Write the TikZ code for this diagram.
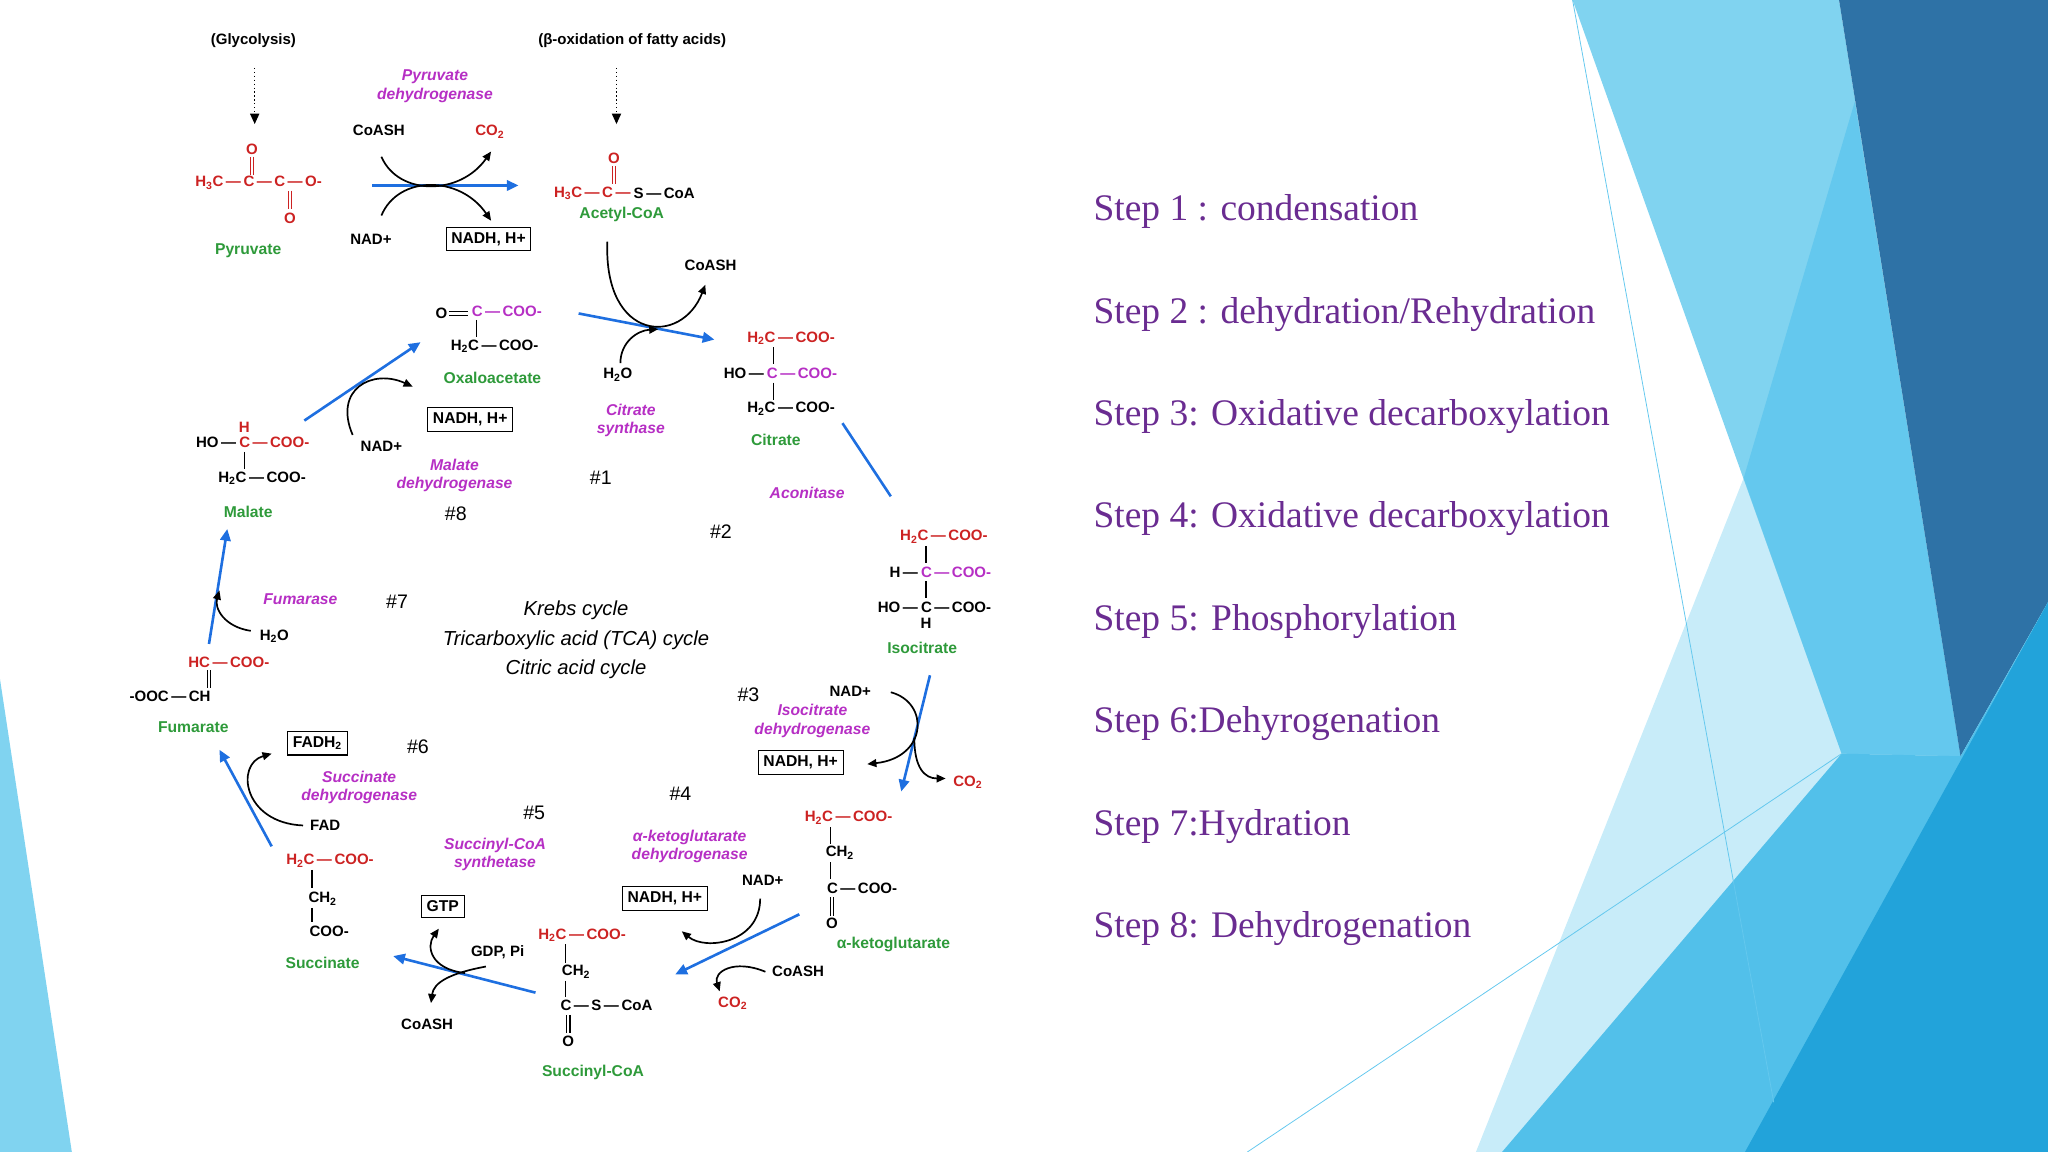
\documentclass[tikz,border=0pt]{standalone}
\usepackage{fontspec}
\setmainfont{Liberation Serif}
\setsansfont{Liberation Sans}
\usetikzlibrary{arrows.meta}
\definecolor{cred}{HTML}{CC2222}
\definecolor{cmag}{HTML}{B62FC4}
\definecolor{cgrn}{HTML}{2E9A3A}
\definecolor{cblu}{HTML}{1E6FE0}
\definecolor{stepc}{HTML}{6A2C91}
\definecolor{bgl}{HTML}{80D3F0}
\definecolor{bgp}{HTML}{C8ECF9}
\definecolor{bgm}{HTML}{64C8EE}
\definecolor{bgd}{HTML}{2E72A6}
\definecolor{bgc}{HTML}{52C0EA}
\definecolor{bgc2}{HTML}{22A3DA}
\newcommand{\sub}[1]{\textsubscript{#1}}
\tikzset{
 ch/.style={font=\sffamily\bfseries\fontsize{11.5}{13}\selectfont, inner sep=1pt},
 rd/.style={ch, text=cred},
 mg/.style={ch, text=cmag},
 gn/.style={ch, text=cgrn, font=\sffamily\bfseries\fontsize{12}{13}\selectfont},
 enz/.style={text=cmag, font=\sffamily\bfseries\itshape\fontsize{12}{14}\selectfont, align=center, inner sep=1pt},
 num/.style={font=\sffamily\fontsize{15}{15}\selectfont},
 bx/.style={ch, draw, line width=0.8pt, inner sep=4pt, font=\sffamily\bfseries\fontsize{12}{13}\selectfont},
 bond/.style={line width=1.1pt},
 dbl/.style={double, double distance=2pt, line width=0.8pt},
 barr/.style={cblu, line width=2pt, -{Triangle[length=9pt,width=8pt]}},
 bline/.style={cblu, line width=2pt},
 karr/.style={line width=1.3pt, -{Triangle[length=7pt,width=6pt]}},
 steptxt/.style={text=stepc, font=\fontsize{28.7}{31}\selectfont, anchor=west, inner sep=0pt},
}
\begin{document}
\begin{tikzpicture}[x=1pt,y=-1pt]
\useasboundingbox (0,0) rectangle (1568,882);
% background
\fill[bgl] (0,520) -- (55,882) -- (0,882) -- cycle;
\fill[bgp] (1335,366) -- (1410,577) -- (1360,882) -- (1130,882) -- cycle;
\fill[bgl] (1204,0) -- (1408,0) -- (1501,579) -- (1410,577) -- cycle;
\fill[bgm] (1420,78) -- (1501,579) -- (1410,577) -- (1335,366) -- cycle;
\fill[bgd] (1408,0) -- (1568,0) -- (1568,461) -- (1501,579) -- cycle;
\fill[bgc] (1150,882) -- (1410,577) -- (1501,579) -- (1568,461) -- (1568,882) -- cycle;
\fill[bgc2] (1336,882) -- (1568,461) -- (1568,882) -- cycle;
\draw[bgm, line width=0.6pt] (1204,0) -- (1358,844);
\draw[bgm, line width=0.6pt] (955,882) -- (1410,577);

% steps
\node[steptxt] (s1) at (837,162) {Step 1 : condensation};
\node[steptxt] (s2) at (837,241) {Step 2 : dehydration/Rehydration};
\node[steptxt] (s3) at (837,319) {Step 3: Oxidative decarboxylation};
\node[steptxt] (s4) at (837,397) {Step 4: Oxidative decarboxylation};
\node[steptxt] (s5) at (837,476) {Step 5: Phosphorylation};
\node[steptxt] (s6) at (837,554) {Step 6:Dehyrogenation};
\node[steptxt] (s7) at (837,633) {Step 7:Hydration};
\node[steptxt] (s8) at (837,711) {Step 8: Dehydrogenation};

% top sources
\node[ch] (gly) at (194,31) {(Glycolysis)};
\node[ch] (box) at (484,31) {(β-oxidation of fatty acids)};
\coordinate (g1) at (195,52); \coordinate (g2) at (195,95);
\coordinate (b1) at (472,52); \coordinate (b2) at (472,95);
\draw[line width=1pt, dotted, -{Triangle[length=8pt,width=7pt]}] (g1) -- (g2);
\draw[line width=1pt, dotted, -{Triangle[length=8pt,width=7pt]}] (b1) -- (b2);

% pyruvate
\node[rd] (pyr) at (198,140) {H\sub{3}C\,—\,C\,—\,C\,—\,O-};
\node[rd] (po1) at (193,114) {O};
\node[rd] (po2) at (222,167) {O};
\draw[dbl, cred] (193,120) -- (193,134);
\draw[dbl, cred] (222,146) -- (222,160);
\node[gn] (pyrl) at (190,192) {Pyruvate};
\node[enz] (pdh) at (333,66) {Pyruvate\\dehydrogenase};
\node[ch] (coa1) at (290,100) {CoASH};
\node[rd] (co21) at (375,101) {CO\sub{2}};
\node[ch] (nad1) at (284,183) {NAD+};
\node[bx] (nadh1) at (374,183) {NADH, H+};
\coordinate (pa) at (285,142); \coordinate (pb) at (397,142);
\draw[barr] (pa) -- (pb);
\draw[karr] (292,120) .. controls (305,150) and (352,150) .. (376,116);
\draw[karr] (292,165) .. controls (305,134) and (352,134) .. (376,169);

% acetyl-CoA
\node[rd, anchor=east] (acc) at (484,148) {H\sub{3}C\,—\,C\,—};
\node[ch, anchor=west] (acs) at (484,148) {S\,—\,CoA};
\node[rd] (ao) at (470,121) {O};
\draw[dbl, cred] (470,127) -- (470,141);
\node[gn] (acl) at (476,164) {Acetyl-CoA};
\node[ch] (coa2) at (544,203) {CoASH};
\node[ch] (h2o1) at (473,287) {H\sub{2}O};
\coordinate (ca) at (443,240); \coordinate (cb) at (547,260);
\draw[barr] (ca) -- (cb);
\draw[karr] (465,185) .. controls (462,262) and (522,265) .. (540,218);
\draw[karr] (475,278) .. controls (475,262) and (488,253) .. (504,252);
\node[enz] (cs) at (483,322) {Citrate\\synthase};
\node[num] (n1) at (460,366) {\#1};

% oxaloacetate
\node[ch] (oxo) at (338,240) {O};
\draw[dbl] (344,240) -- (358,240);
\node[mg, anchor=west] (oxc) at (360,238) {C\,—\,COO-};
\node[ch, anchor=west] (oxc2) at (344,265) {H\sub{2}C\,—\,COO-};
\draw[bond] (365,245) -- (365,258);
\node[gn] (oxl) at (377,289) {Oxaloacetate};

% citrate
\node[rd, anchor=west] (ci1) at (571,259) {H\sub{2}C\,—\,COO-};
\node[ch, anchor=east] (ci2a) at (586,286) {HO\,—};
\node[mg, anchor=west] (ci2) at (586,286) {C\,—\,COO-};
\node[ch, anchor=west] (ci3) at (571,313) {H\sub{2}C\,—\,COO-};
\draw[bond] (592,266) -- (592,279);
\draw[bond] (592,293) -- (592,306);
\node[gn] (cil) at (594,337) {Citrate};
\coordinate (aa) at (645,324); \coordinate (ab) at (682,380);
\draw[bline] (aa) -- (ab);
\node[enz] (acn) at (618,377) {Aconitase};
\node[num] (n2) at (552,407) {\#2};

% isocitrate
\node[rd, anchor=west] (is1) at (688,411) {H\sub{2}C\,—\,COO-};
\node[ch, anchor=east] (is2a) at (704,438) {H\,—};
\node[mg, anchor=west] (is2) at (704,438) {C\,—\,COO-};
\node[ch, anchor=east] (is3a) at (704,465) {HO\,—};
\node[ch, anchor=west] (is3) at (704,465) {C\,—\,COO-};
\node[ch] (is4) at (709,477) {H};
\draw[bond] (709,418) -- (709,431);
\draw[bond] (709,445) -- (709,458);
\node[gn] (isl) at (706,496) {Isocitrate};
\coordinate (ia) at (712,517); \coordinate (ib) at (690,606);
\draw[barr] (ia) -- (ib);
\node[ch] (nad3) at (651,529) {NAD+};
\node[rd] (co23) at (741,599) {CO\sub{2}};
\node[bx] (nadh3) at (613,584) {NADH, H+};
\draw[karr] (682,530) .. controls (712,538) and (710,580) .. (664,585);
\draw[karr] (700,565) .. controls (700,588) and (708,596) .. (724,596);
\node[enz] (idh) at (622,552) {Isocitrate\\dehydrogenase};
\node[num] (n3) at (573,532) {\#3};

% alpha-ketoglutarate
\node[rd, anchor=west] (kg1) at (615,626) {H\sub{2}C\,—\,COO-};
\node[ch] (kg2) at (643,653) {CH\sub{2}};
\node[ch, anchor=west] (kg3) at (632,680) {C\,—\,COO-};
\node[ch] (kgo) at (637,707) {O};
\draw[bond] (636,633) -- (636,646);
\draw[bond] (636,660) -- (636,673);
\draw[dbl] (637,687) -- (637,701);
\node[gn] (kgl) at (684,723) {α-ketoglutarate};
\coordinate (ka) at (612,700); \coordinate (kb) at (517,746);
\draw[barr] (ka) -- (kb);
\node[ch] (nad4) at (584,674) {NAD+};
\node[bx] (nadh4) at (509,688) {NADH, H+};
\node[ch] (coa4) at (611,744) {CoASH};
\node[rd] (co24) at (561,768) {CO\sub{2}};
\draw[karr] (582,688) .. controls (582,722) and (540,728) .. (522,713);
\draw[karr] (586,744) .. controls (562,734) and (546,744) .. (551,759);
\node[enz] (kdh) at (528,648) {α-ketoglutarate\\dehydrogenase};
\node[num] (n4) at (521,608) {\#4};

% succinyl-CoA
\node[rd, anchor=west] (sc1) at (411,716) {H\sub{2}C\,—\,COO-};
\node[ch] (sc2) at (441,744) {CH\sub{2}};
\node[ch, anchor=west] (sc3) at (428,770) {C\,—\,S\,—\,CoA};
\node[ch] (sco) at (435,797) {O};
\draw[bond] (433,723) -- (433,737);
\draw[bond] (433,751) -- (433,763);
\draw[dbl] (435,777) -- (435,791);
\node[gn] (scl) at (454,821) {Succinyl-CoA};
\coordinate (sa) at (410,760); \coordinate (sb) at (301,732);
\draw[barr] (sa) -- (sb);
\node[bx] (gtp) at (339,694) {GTP};
\node[ch] (gdp) at (381,729) {GDP, Pi};
\node[ch] (coa5) at (327,784) {CoASH};
\draw[karr] (356,745) .. controls (330,742) and (326,725) .. (336,711);
\draw[karr] (372,740) .. controls (345,745) and (332,752) .. (330,768);
\node[enz] (scs) at (379,654) {Succinyl-CoA\\synthetase};
\node[num] (n5) at (409,622) {\#5};

% succinate
\node[rd, anchor=west] (su1) at (218,659) {H\sub{2}C\,—\,COO-};
\node[ch] (su2) at (247,688) {CH\sub{2}};
\node[ch] (su3) at (252,713) {COO-};
\draw[bond] (239,666) -- (239,680);
\draw[bond] (239,695) -- (239,706);
\node[gn] (sul) at (247,737) {Succinate};
\coordinate (fa) at (208,648); \coordinate (fb) at (168,574);
\draw[barr] (fa) -- (fb);
\node[bx] (fadh) at (243,569) {FADH\sub{2}};
\node[ch] (fad) at (249,632) {FAD};
\draw[karr] (232,632) .. controls (186,630) and (180,585) .. (208,577);
\node[enz] (sdh) at (275,603) {Succinate\\dehydrogenase};
\node[num] (n6) at (320,572) {\#6};

% fumarate
\node[rd, anchor=west] (fu1) at (143,507) {HC\,—\,COO-};
\node[ch, anchor=west] (fu2) at (98,533) {-OOC\,—\,CH};
\draw[dbl] (160,513) -- (160,527);
\node[gn] (ful) at (148,557) {Fumarate};
\coordinate (ma) at (160,493); \coordinate (mb) at (174,405);
\draw[barr] (ma) -- (mb);
\node[ch] (h2o2) at (210,487) {H\sub{2}O};
\draw[karr] (192,483) .. controls (172,480) and (164,466) .. (168,452);
\node[enz] (fum) at (230,459) {Fumarase};
\node[num] (n7) at (304,461) {\#7};

% malate
\node[rd] (mh) at (187,327) {H};
\node[ch, anchor=east] (m1a) at (182,339) {HO\,—};
\node[rd, anchor=west] (m1) at (182,339) {C\,—\,COO-};
\node[ch, anchor=west] (m2) at (166,366) {H\sub{2}C\,—\,COO-};
\draw[bond] (187,346) -- (187,359);
\node[gn] (mal) at (190,392) {Malate};
\coordinate (oa) at (233,322); \coordinate (ob) at (322,262);
\draw[barr] (oa) -- (ob);
\node[ch] (nad8) at (292,342) {NAD+};
\node[bx] (nadh8) at (360,321) {NADH, H+};
\draw[karr] (270,333) .. controls (255,298) and (285,282) .. (316,296);
\node[enz] (mdh) at (348,364) {Malate\\dehydrogenase};
\node[num] (n8) at (349,393) {\#8};

% center
\node[font=\sffamily\itshape\fontsize{15.5}{22.5}\selectfont, align=center] (ctr) at (441,490) {Krebs cycle\\Tricarboxylic acid (TCA) cycle\\Citric acid cycle};
\end{tikzpicture}
\end{document}
